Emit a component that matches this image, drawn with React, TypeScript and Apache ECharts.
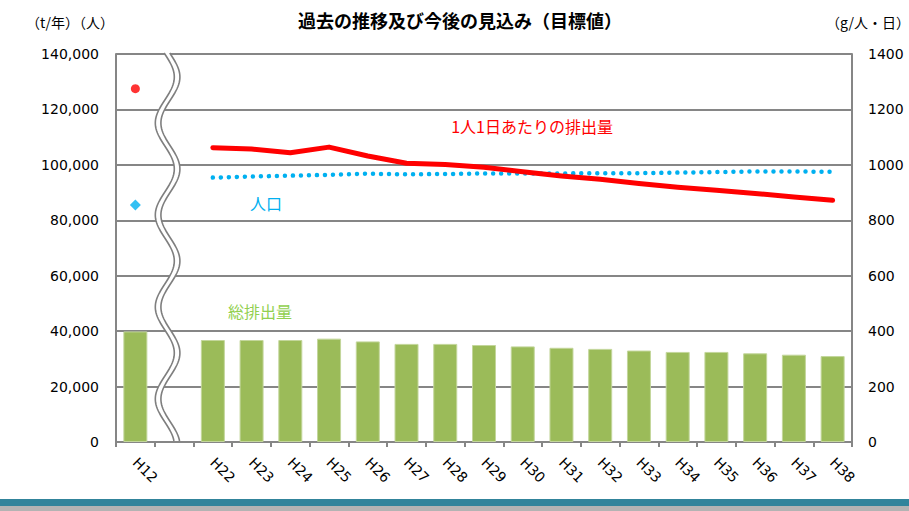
import React, { useEffect, useRef } from "react";
import * as echarts from "echarts";

const categories = ["H12", "", "H22", "H23", "H24", "H25", "H26", "H27", "H28", "H29", "H30", "H31", "H32", "H33", "H34", "H35", "H36", "H37", "H38"];
const totalEmission = [39900, null, 36800, 36800, 36800, 37300, 36300, 35400, 35400, 35000, 34500, 34000, 33600, 33000, 32500, 32500, 32000, 31500, 31000];
const perCapita = [null, null, 1062, 1057, 1044, 1064, 1032, 1006, 1001, 991, 975, 960, 948, 933, 919, 908, 897, 884, 872];
const population = [null, null, 95400, 95800, 96100, 96400, 96800, 96600, 96700, 96900, 96900, 96900, 97000, 97000, 97200, 97400, 97600, 97600, 97500];
const perCapitaH12 = 1275;
const populationH12 = 85500;
const leftTicks = { min: 0, max: 140000, interval: 20000 };
const rightTicks = { min: 0, max: 1400, interval: 200 };

const GRID_COLOR = "#868686";
const NUM_FONT = "DejaVu Sans";
const JP_FONT = "'Noto Sans CJK JP', sans-serif";

export default function App() {
  const ref = useRef<HTMLDivElement>(null);
  useEffect(() => {
    if (!ref.current) return;
    const chart = echarts.init(ref.current, undefined, { renderer: "svg" });
    const option: any = {
      animation: false,
      backgroundColor: "#fff",
      grid: { left: 116, right: 57, top: 54, bottom: 69, containLabel: false },
      xAxis: {
        type: "category",
        data: categories,
        boundaryGap: true,
        axisLine: { show: true, lineStyle: { color: GRID_COLOR, width: 2 } },
        axisTick: { show: true, interval: 0, length: 5, lineStyle: { color: GRID_COLOR, width: 2 } },
        axisLabel: { interval: 0, rotate: -45, margin: 18, fontSize: 14, color: "#000", fontFamily: NUM_FONT },
        splitLine: { show: false },
      },
      yAxis: [
        {
          type: "value",
          ...leftTicks,
          position: "left",
          axisLine: { show: true, lineStyle: { color: GRID_COLOR, width: 2 } },
          axisTick: { show: false },
          axisLabel: {
            margin: 17,
            fontSize: 14,
            color: "#000",
            fontFamily: NUM_FONT,
            formatter: (v: number) => v.toLocaleString("en-US"),
          },
          splitLine: { show: true, lineStyle: { color: GRID_COLOR, width: 2 } },
        },
        {
          type: "value",
          ...rightTicks,
          position: "right",
          axisLine: { show: true, lineStyle: { color: GRID_COLOR, width: 2 } },
          axisTick: { show: false },
          axisLabel: { margin: 16, fontSize: 14, color: "#000", fontFamily: NUM_FONT, formatter: (v: number) => String(v) },
          splitLine: { show: false },
        },
      ],
      series: [
        {
          type: "bar",
          name: "総排出量",
          data: totalEmission,
          yAxisIndex: 0,
          barWidth: 24,
          itemStyle: { color: "#9BBB59", borderColor: "#C3D69B", borderWidth: 1 },
          z: 2,
        },
        {
          type: "custom",
          silent: true,
          clip: false,
          z: 3,
          data: [[1, 0]],
          encode: { x: 0, y: 1 },
          renderItem: (params: any, api: any) => {
            const cs = params.coordSys;
            const cx = api.coord([api.value(0), 0])[0] - 6.5;
            const top = cs.y - 1;
            const bottom = cs.y + cs.height;
            const amp = 9.5;
            const period = 92;
            const y0 = cs.y + 69;
            const left: number[][] = [];
            const right: number[][] = [];
            for (let y = top; y <= bottom + 0.01; y += 2) {
              const dx = -amp * Math.cos((2 * Math.PI * (y - y0)) / period);
              left.push([cx + dx - 2.8, y]);
              right.push([cx + dx + 2.8, y]);
            }
            return {
              type: "group",
              children: [
                { type: "polygon", shape: { points: left.concat(right.slice().reverse()) }, style: { fill: "#fff", stroke: "none" } },
                { type: "polyline", shape: { points: left }, style: { stroke: "#7F7F7F", lineWidth: 1.6, fill: "none" } },
                { type: "polyline", shape: { points: right }, style: { stroke: "#7F7F7F", lineWidth: 1.6, fill: "none" } },
              ],
            };
          },
        },
        {
          type: "line",
          name: "人口",
          data: population,
          yAxisIndex: 0,
          showSymbol: false,
          symbol: "none",
          lineStyle: { color: "#00B0F0", width: 4.5, type: [0.01, 8], cap: "round" },
          z: 4,
        },
        {
          type: "line",
          name: "1人1日あたりの排出量",
          data: perCapita,
          yAxisIndex: 1,
          showSymbol: false,
          symbol: "none",
          lineStyle: { color: "#FF0000", width: 5, cap: "round", join: "round" },
          z: 5,
        },
        {
          type: "scatter",
          data: [["H12", perCapitaH12]],
          yAxisIndex: 1,
          symbol: "circle",
          symbolSize: 9,
          itemStyle: { color: "#FF0000" },
          z: 5,
        },
        {
          type: "scatter",
          data: [["H12", populationH12]],
          yAxisIndex: 0,
          symbol: "diamond",
          symbolSize: 11,
          itemStyle: { color: "#00B0F0" },
          z: 5,
        },
      ],
      graphic: [
        { type: "text", x: 460, y: 20, style: { text: "過去の推移及び今後の見込み（目標値）", font: `bold 18px ${JP_FONT}`, fill: "#000", align: "center", verticalAlign: "middle" } },
        { type: "text", x: 70, y: 22, style: { text: "（t/年）（人）", font: `14px ${JP_FONT}`, fill: "#000", align: "center", verticalAlign: "middle" } },
        { type: "text", x: 868, y: 22, style: { text: "（g/人・日）", font: `14px ${JP_FONT}`, fill: "#000", align: "center", verticalAlign: "middle" } },
        { type: "text", x: 532, y: 126, style: { text: "1人1日あたりの排出量", font: `16px ${JP_FONT}`, fill: "#FF0000", align: "center", verticalAlign: "middle" } },
        { type: "text", x: 266, y: 203, style: { text: "人口", font: `16px ${JP_FONT}`, fill: "#00B0F0", align: "center", verticalAlign: "middle" } },
        { type: "text", x: 260, y: 311, style: { text: "総排出量", font: `16px ${JP_FONT}`, fill: "#92D050", align: "center", verticalAlign: "middle" } },
        { type: "rect", shape: { x: 0, y: 499, width: 909, height: 7 }, style: { fill: "#31849B" } },
        { type: "rect", shape: { x: 0, y: 506, width: 909, height: 5 }, style: { fill: "#B3B3B3" } },
      ],
    };
    chart.setOption(option);
    return () => chart.dispose();
  }, []);
  return <div ref={ref} style={{ width: 909, height: 511, position: "absolute", left: 0, top: 0 }} />;
}
